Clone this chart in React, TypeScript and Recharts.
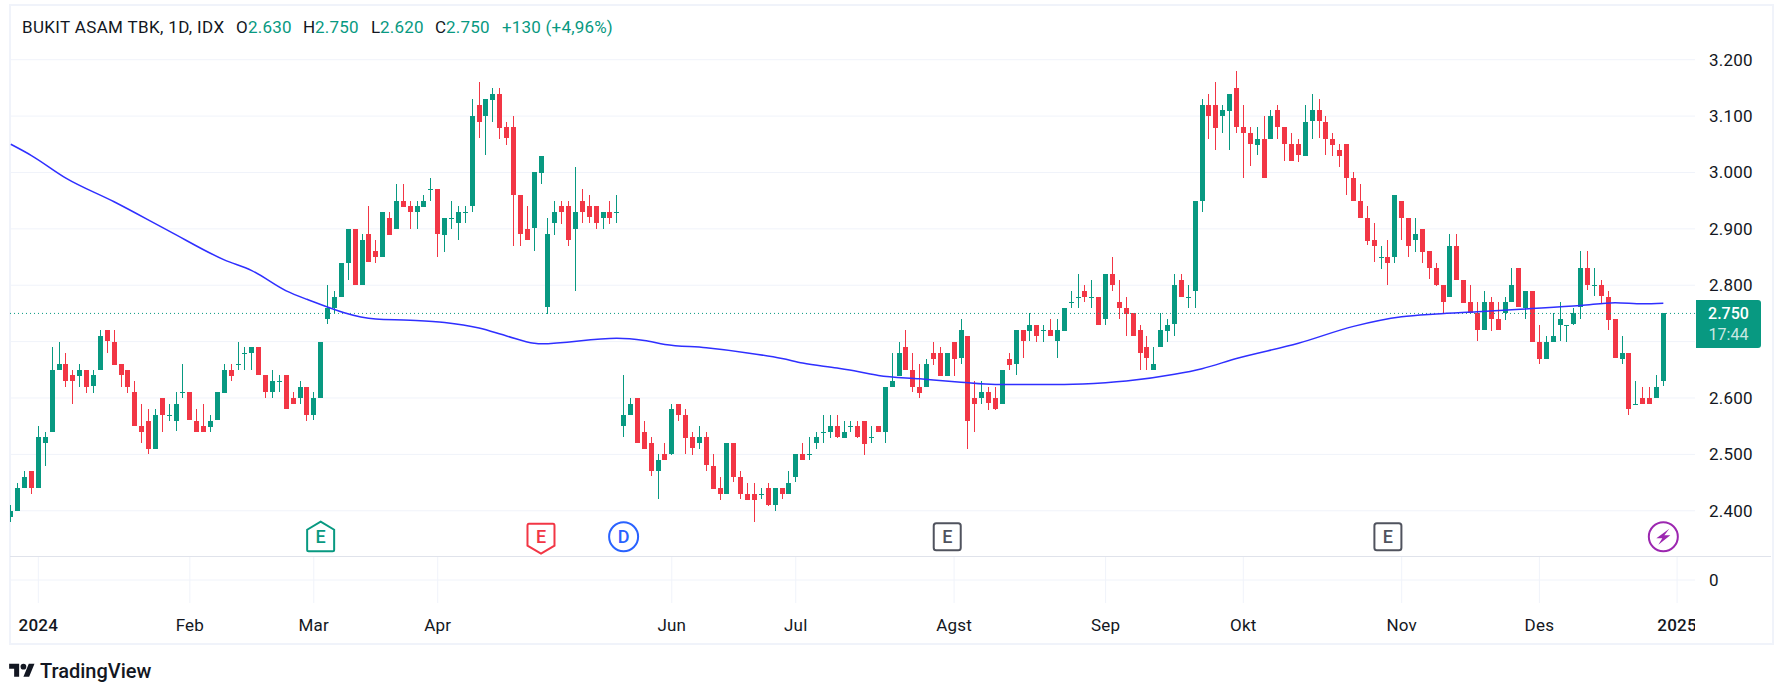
import React from 'react';
import { Bar, CartesianGrid, ComposedChart, Line, ReferenceDot, ReferenceLine, XAxis, YAxis } from 'recharts';

const opens = [
  2390,2400,2440,2470,2440,2520,2540,2650,2660,2640,
  2640,2650,2620,2650,2720,2700,2660,2650,2610,2550,
  2560,2510,2600,2570,2560,2610,2610,2560,2550,2550,
  2560,2610,2650,2660,2680,2680,2690,2640,2610,2630,
  2640,2600,2600,2620,2570,2600,2740,2760,2780,2840,
  2900,2800,2890,2860,2850,2920,2900,2950,2940,2930,
  2940,2970,2970,2890,2920,2910,2930,2940,3120,3100,
  3130,3140,3080,3080,2960,2900,2900,3000,2760,2910,
  2940,2940,2900,2950,2940,2940,2920,2930,2930,2550,
  2570,2600,2540,2520,2470,2500,2500,2590,2570,2530,
  2520,2530,2480,2440,2430,2520,2460,2430,2430,2430,
  2440,2410,2440,2430,2460,2500,2500,2520,2540,2540,
  2550,2530,2550,2550,2560,2530,2550,2540,2620,2640,
  2690,2650,2620,2620,2680,2680,2640,2700,2670,2710,
  2600,2600,2610,2600,2590,2670,2660,2720,2720,2730,
  2720,2720,2700,2720,2770,2780,2790,2780,2780,2740,
  2820,2770,2760,2750,2720,2690,2650,2690,2720,2730,
  2810,2780,2790,2950,3120,3120,3100,3110,3150,3080,
  3070,3050,3060,3060,3110,3080,3050,3050,3030,3090,
  3110,3090,3060,3040,3050,2990,2950,2920,2880,2850,
  2850,2850,2950,2920,2880,2900,2860,2830,2800,2780,
  2870,2810,2770,2750,2720,2770,2740,2750,2770,2830,
  2760,2790,2700,2670,2700,2730,2730,2730,2760,2830,
  2800,2800,2780,2740,2670,2680,2590,2600,2600,2600,2630,
];
const highs = [
  2410,2450,2470,2470,2550,2540,2690,2700,2680,2650,
  2660,2650,2650,2720,2720,2720,2660,2650,2630,2590,
  2580,2580,2600,2590,2610,2660,2610,2580,2590,2570,
  2610,2660,2660,2700,2690,2690,2690,2640,2650,2640,
  2640,2610,2630,2620,2610,2700,2800,2790,2840,2900,
  2900,2890,2940,2880,2930,2930,2980,2980,2950,2950,
  2960,2990,2970,2920,2950,2940,2940,3130,3160,3130,
  3150,3150,3090,3100,2960,2940,3000,3030,2920,2950,
  2950,2950,3010,2970,2960,2940,2930,2950,2960,2640,
  2600,2600,2560,2530,2500,2520,2590,2590,2580,2540,
  2550,2540,2500,2460,2520,2520,2470,2450,2450,2440,
  2450,2440,2440,2470,2500,2520,2530,2540,2570,2570,
  2570,2560,2560,2560,2560,2550,2550,2620,2680,2700,
  2720,2680,2660,2670,2700,2690,2680,2700,2740,2710,
  2630,2630,2620,2620,2650,2680,2720,2720,2750,2730,
  2730,2740,2740,2760,2790,2820,2800,2810,2780,2820,
  2850,2810,2780,2750,2730,2710,2690,2750,2740,2820,
  2820,2800,2950,3130,3140,3160,3120,3140,3180,3120,
  3080,3080,3100,3110,3120,3080,3070,3060,3120,3140,
  3130,3100,3070,3050,3050,3000,2980,2940,2910,2870,
  2880,2960,2950,2920,2920,2900,2860,2840,2800,2890,
  2890,2810,2800,2770,2790,2780,2770,2780,2830,2830,
  2790,2790,2730,2710,2750,2770,2730,2760,2860,2860,
  2830,2810,2790,2740,2710,2680,2630,2620,2620,2640,2750,
];
const lows = [
  2380,2400,2440,2430,2440,2480,2540,2650,2620,2590,
  2620,2610,2610,2650,2680,2660,2620,2610,2550,2520,
  2500,2510,2540,2560,2540,2600,2560,2540,2540,2540,
  2560,2610,2630,2650,2650,2650,2640,2600,2600,2610,
  2580,2590,2590,2560,2560,2600,2730,2750,2780,2810,
  2800,2800,2840,2840,2850,2890,2900,2940,2900,2900,
  2940,2950,2850,2860,2900,2880,2910,2930,3060,3030,
  3090,3060,3050,2870,2870,2880,2860,2980,2750,2890,
  2910,2870,2790,2910,2910,2900,2900,2910,2910,2530,
  2570,2520,2510,2460,2420,2490,2500,2560,2500,2500,
  2510,2470,2440,2420,2430,2450,2420,2420,2380,2420,
  2410,2400,2420,2430,2450,2490,2490,2510,2520,2530,
  2530,2530,2540,2530,2500,2520,2540,2520,2620,2640,
  2650,2610,2600,2620,2660,2640,2640,2640,2660,2510,
  2540,2590,2580,2580,2590,2650,2640,2670,2700,2700,
  2700,2710,2670,2720,2760,2760,2770,2760,2730,2730,
  2790,2740,2710,2710,2650,2650,2650,2690,2700,2710,
  2780,2760,2760,2930,3060,3040,3070,3040,3070,2990,
  3010,3030,2990,3060,3060,3020,3020,3020,3030,3060,
  3060,3030,3030,3010,2960,2950,2920,2870,2840,2830,
  2800,2840,2880,2850,2860,2840,2810,2800,2750,2780,
  2810,2770,2750,2700,2720,2720,2720,2740,2770,2760,
  2740,2700,2660,2670,2700,2700,2700,2730,2740,2790,
  2780,2770,2720,2670,2660,2570,2590,2590,2590,2600,2620,
];
const closes = [
  2400,2440,2460,2440,2530,2530,2650,2660,2630,2630,
  2650,2620,2640,2710,2700,2660,2640,2620,2550,2540,
  2510,2570,2570,2570,2590,2610,2560,2540,2540,2560,
  2610,2650,2640,2660,2680,2690,2640,2610,2630,2630,
  2580,2590,2620,2570,2600,2700,2760,2780,2840,2900,
  2800,2880,2840,2850,2930,2890,2950,2940,2930,2940,
  2950,2970,2890,2920,2920,2930,2930,3100,3090,3130,
  3140,3080,3060,2960,2890,2880,3000,3030,2890,2930,
  2930,2880,2930,2930,2920,2910,2930,2920,2930,2570,
  2590,2520,2510,2470,2490,2490,2580,2570,2530,2510,
  2530,2480,2440,2430,2520,2460,2430,2420,2420,2430,
  2410,2440,2430,2450,2500,2490,2500,2530,2540,2550,
  2530,2540,2550,2530,2520,2530,2540,2620,2630,2680,
  2650,2620,2610,2660,2670,2640,2680,2670,2720,2560,
  2590,2610,2590,2580,2650,2660,2720,2700,2730,2710,
  2720,2710,2720,2760,2770,2780,2780,2780,2730,2820,
  2800,2760,2750,2710,2680,2670,2660,2720,2730,2800,
  2780,2780,2950,3120,3100,3080,3110,3140,3080,3070,
  3050,3060,2990,3100,3080,3050,3020,3030,3090,3110,
  3090,3060,3050,3030,2990,2950,2920,2880,2870,2850,
  2840,2960,2920,2870,2890,2860,2830,2800,2770,2870,
  2810,2770,2750,2720,2770,2740,2720,2770,2800,2760,
  2790,2700,2670,2700,2710,2740,2730,2750,2830,2800,
  2800,2780,2740,2670,2680,2580,2590,2590,2590,2620,2750,
];

// moving average at the bars where it bends
const maBars = [
  0,3,8,15,23,31,35,40,43,53,58,63,68,72,76,77,88,92,95,101,107,112,115,
  120,123,126,132,138,143,153,159,162,169,173,178,187,195,202,207,213,220,228,233,237,240,
];
const maValues = [
  3050,3030,2990,2948,2896,2845,2826,2790,2775,2740,2738,2734,2724,2710,2697,2696,2706,2702,2695,2689,2680,2670,2662,
  2653,2647,2640,2634,2628,2624,2624,2627,2630,2642,2652,2670,2697,2727,2744,2749,2753,2758,2764,2769,2767,2768,
];

const monthBars = [4, 26, 44, 62, 96, 114, 137, 159, 179, 202, 222, 242];
const monthLabels = ['2024', 'Feb', 'Mar', 'Apr', 'Jun', 'Jul', 'Agst', 'Sep', 'Okt', 'Nov', 'Des', '2025'];
const priceTicks = [2400, 2500, 2600, 2700, 2800, 2900, 3000, 3100, 3200];
const paneTicks = [0];

const markerBars = [45, 77, 89, 136, 200, 240];
const markerKinds = ['up', 'down', 'circle', 'box', 'box', 'bolt'];
const markerLabels = ['E', 'E', 'D', 'E', 'E', ''];
const markerColors = ['#089981', '#f23645', '#2962ff', '#50535e', '#50535e', '#9c27b0'];
const markerLevel = 2354;

const lastPrice = 2750;
const UP = '#089981';
const DOWN = '#f23645';
const GRID = '#f0f3fa';
const FONT = 'Roboto, sans-serif';
const barDomain = [-0.116, 244.6];

const rows = opens.map((open, i) => ({
  i,
  open,
  close: closes[i],
  high: highs[i],
  low: lows[i],
  range: [lows[i], highs[i]],
  ma: maBars.includes(i) ? maValues[maBars.indexOf(i)] : undefined,
  pane: 0,
}));

const Candle = (props: any) => {
  const { x, y, width, height, payload } = props;
  const perPoint = height / (payload.high - payload.low);
  const top = y + (payload.high - Math.max(payload.open, payload.close)) * perPoint;
  const bodyHeight = Math.max(Math.abs(payload.open - payload.close) * perPoint, 1);
  const color = payload.close >= payload.open ? UP : DOWN;
  const left = Math.round(x);
  return (
    <g>
      <rect x={left + 2} y={Math.round(y)} width={1} height={Math.round(height)} fill={color} />
      <rect x={left} y={Math.round(top)} width={width} height={Math.max(Math.round(bodyHeight), 1)} fill={color} />
    </g>
  );
};

const Marker = ({ cx, cy, index }: any) => {
  const kind = markerKinds[index];
  const color = markerColors[index];
  const label = markerLabels[index];
  let outline = null;
  if (kind === 'up') {
    outline = <path d={`M${cx} ${cy - 15} L${cx + 13.5} ${cy - 7} V${cy + 13} Q${cx + 13.5} ${cy + 14.5} ${cx + 12} ${cy + 14.5} H${cx - 12} Q${cx - 13.5} ${cy + 14.5} ${cx - 13.5} ${cy + 13} V${cy - 7} Z`} fill="#fff" stroke={color} strokeWidth={2} />;
  } else if (kind === 'down') {
    outline = <path d={`M${cx} ${cy + 17} L${cx + 13.5} ${cy + 9} V${cy - 11} Q${cx + 13.5} ${cy - 13} ${cx + 12} ${cy - 13} H${cx - 12} Q${cx - 13.5} ${cy - 13} ${cx - 13.5} ${cy - 11} V${cy + 9} Z`} fill="#fff" stroke={color} strokeWidth={2} />;
  } else if (kind === 'box') {
    outline = <rect x={cx - 13.5} y={cy - 13.5} width={27} height={27} rx={2.5} fill="#fff" stroke={color} strokeWidth={2} />;
  } else {
    outline = <circle cx={cx} cy={cy} r={14.5} fill="#fff" stroke={color} strokeWidth={2} />;
  }
  return (
    <g>
      {outline}
      {kind === 'bolt' ? (
        <path d={`M${cx + 6} ${cy - 8} L${cx - 7} ${cy + 1.5} H${cx - 1} L${cx - 5} ${cy + 8} L${cx + 7} ${cy - 1.5} H${cx + 1} Z`} fill={color} />
      ) : (
        <text x={cx} y={cy + 6.5} textAnchor="middle" fontFamily={FONT} fontSize={18} fontWeight={500} fill={color}>{label}</text>
      )}
    </g>
  );
};

const MonthTick = ({ x, y, payload }: any) => {
  const label = monthLabels[monthBars.indexOf(payload.value)];
  const isYear = label === '2024' || label === '2025';
  return (
    <g clipPath="url(#axisClip)">
      <text x={x} y={y} dy={20} textAnchor="middle" fontFamily={FONT} fontSize={17} letterSpacing={0.2} fontWeight={isYear ? 500 : 400} fill="#131722">{label}</text>
    </g>
  );
};

const Legend = () => {
  const text = { position: 'absolute', top: 18, fontSize: 17, lineHeight: '19px', letterSpacing: 0.2, whiteSpace: 'nowrap', fontFamily: FONT } as React.CSSProperties;
  const dark = { ...text, color: '#131722' };
  const green = { ...text, color: UP };
  return (
    <>
      <span style={{ ...dark, left: 22, letterSpacing: 0.35 }}>BUKIT ASAM TBK, 1D, IDX</span>
      <span style={{ ...dark, left: 236 }}>O</span>
      <span style={{ ...green, left: 248 }}>2.630</span>
      <span style={{ ...dark, left: 303 }}>H</span>
      <span style={{ ...green, left: 315 }}>2.750</span>
      <span style={{ ...dark, left: 371 }}>L</span>
      <span style={{ ...green, left: 380 }}>2.620</span>
      <span style={{ ...dark, left: 435 }}>C</span>
      <span style={{ ...green, left: 446 }}>2.750</span>
      <span style={{ ...green, left: 502 }}>+130 (+4,96%)</span>
    </>
  );
};

const priceTick = { fontFamily: FONT, fontSize: 17, letterSpacing: 0.2, fill: '#131722', textAnchor: 'start' };

export default function App() {
  return (
    <div style={{ position: 'absolute', left: 0, top: 0, width: 1781, height: 683, background: '#fff', overflow: 'hidden' }}>
      <div style={{ position: 'absolute', left: 9, top: 4, width: 1761, height: 637, border: `2px solid ${GRID}` }} />

      <div style={{ position: 'absolute', left: 0, top: 0 }}>
        <ComposedChart width={1781} height={557} data={rows} margin={{ top: 5, right: 8, bottom: 0, left: 10 }}>
          <CartesianGrid stroke={GRID} strokeWidth={1} verticalValues={monthBars} horizontalValues={priceTicks} />
          <XAxis dataKey="i" type="number" domain={barDomain} ticks={monthBars} allowDataOverflow height={0} tick={false} tickLine={false} axisLine={false} />
          <YAxis
            orientation="right"
            width={78}
            domain={[2318, 3297]}
            ticks={priceTicks}
            allowDataOverflow
            interval={0}
            axisLine={false}
            tickLine={false}
            tickSize={0}
            tickMargin={14}
            tick={priceTick}
            tickFormatter={(v: number) => v.toLocaleString('de-DE')}
          />
          <ReferenceLine y={lastPrice} stroke={UP} strokeDasharray="1 3" strokeWidth={1} />
          <Bar dataKey="range" barSize={5} shape={<Candle />} isAnimationActive={false} />
          <Line dataKey="ma" type="monotone" connectNulls dot={false} stroke="#2f2fff" strokeWidth={1.5} isAnimationActive={false} />
          {markerBars.map((bar, index) => (
            <ReferenceDot key={index} x={bar} y={markerLevel} shape={(p: any) => <Marker cx={p.cx} cy={p.cy} index={index} />} />
          ))}
        </ComposedChart>
      </div>

      <div style={{ position: 'absolute', left: 0, top: 557 }}>
        <ComposedChart width={1781} height={88} data={rows} margin={{ top: 0, right: 8, bottom: 0, left: 10 }}>
          <defs>
            <clipPath id="axisClip">
              <rect x={0} y={0} width={1695} height={88} />
            </clipPath>
          </defs>
          <CartesianGrid stroke={GRID} strokeWidth={1} verticalValues={monthBars} horizontalValues={paneTicks} />
          <XAxis dataKey="i" type="number" domain={barDomain} ticks={monthBars} interval={0} allowDataOverflow height={42} axisLine={false} tickLine={false} tickSize={0} tickMargin={8} tick={<MonthTick />} />
          <YAxis orientation="right" width={78} domain={[-1, 1]} ticks={paneTicks} allowDataOverflow interval={0} axisLine={false} tickLine={false} tickSize={0} tickMargin={14} tick={priceTick} />
          <Line dataKey="pane" stroke="none" dot={false} isAnimationActive={false} />
        </ComposedChart>
      </div>

      <div style={{ position: 'absolute', left: 10, top: 556, width: 1761, height: 1, background: '#e0e3eb' }} />

      <Legend />

      <div style={{ position: 'absolute', left: 1696, top: 300, width: 65, height: 48, background: UP, borderRadius: '0 3px 3px 0', fontFamily: FONT, fontSize: 16, lineHeight: '21px', textAlign: 'center', paddingTop: 3, boxSizing: 'border-box' }}>
        <div style={{ color: '#fff', fontWeight: 500 }}>2.750</div>
        <div style={{ color: 'rgba(255,255,255,0.8)' }}>17:44</div>
      </div>

      <svg style={{ position: 'absolute', left: 9, top: 661 }} width={26} height={20} viewBox="0 0 36 28">
        <path d="M14 22H7V11H0V4h14v18zM28 22h-8l7.5-18h8L28 22z" fill="#131722" />
        <circle cx={20} cy={8} r={4} fill="#131722" />
      </svg>
      <span style={{ position: 'absolute', left: 40, top: 660, fontFamily: FONT, fontSize: 20, fontWeight: 500, lineHeight: '23px', color: '#131722' }}>TradingView</span>
    </div>
  );
}
